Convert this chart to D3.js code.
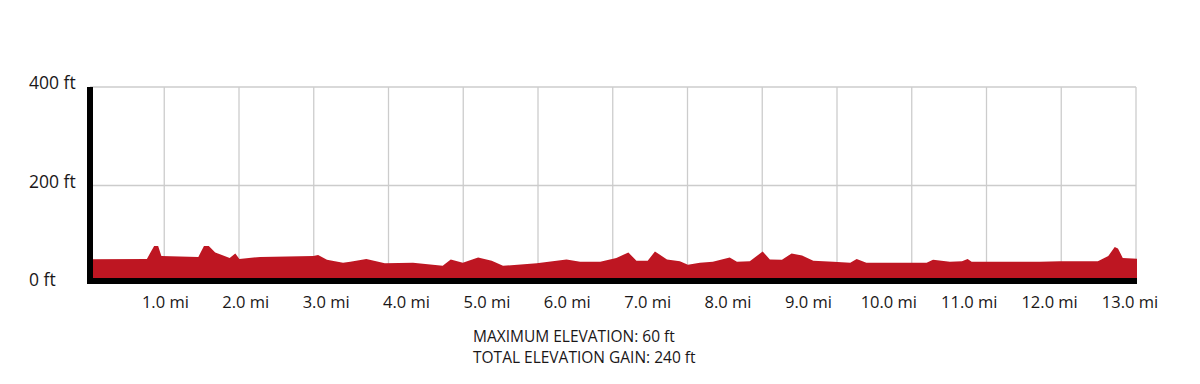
<!DOCTYPE html>
<html>
<head>
<meta charset="utf-8">
<script src="https://cdn.jsdelivr.net/npm/d3@7"></script>
<style>
  body { margin: 0; background: #fff; }
  text { font-family: "Open Sans", sans-serif; fill: #1a1718; }
</style>
</head>
<body>
<div id="graphic_area"></div>
<script>
var width = 1200;
var height = 384;

// elevation profile, miles vs feet
var miles = [0, 0.77, 0.86, 0.91, 0.95, 1.41, 1.48, 1.54, 1.62, 1.80, 1.87, 1.92, 2.18, 2.84, 2.90, 3.01,
  3.21, 3.30, 3.50, 3.73, 4.08, 4.45, 4.55, 4.70, 4.89, 5.06, 5.20, 5.62, 5.99, 6.16, 6.41, 6.61,
  6.76, 6.86, 7.00, 7.09, 7.24, 7.40, 7.50, 7.65, 7.81, 8.02, 8.11, 8.27, 8.43, 8.52, 8.67, 8.79,
  8.92, 9.06, 9.31, 9.52, 9.60, 9.72, 10.47, 10.55, 10.76, 10.91, 10.98, 11.03, 11.88, 12.13, 12.60,
  12.73, 12.81, 12.85, 12.91, 13.1];
var feet = [50, 51, 77, 77, 57, 55, 77, 77, 64, 53, 62, 51, 55, 57, 59, 49,
  43, 45, 51, 42, 43, 37, 50, 43, 54, 47, 37, 42, 50, 45, 45, 53,
  64, 47, 47, 66, 50, 46, 39, 43, 45, 54, 45, 46, 66, 50, 49, 62,
  58, 47, 45, 43, 51, 43, 43, 49, 45, 46, 51, 45, 45, 46, 46,
  57, 75, 72, 53, 51];

var mileTicks = [1, 2, 3, 4, 5, 6, 7, 8, 9, 10, 11, 12, 13];
var feetTicks = [0, 200, 400];
var summary = ["MAXIMUM ELEVATION: 60 ft", "TOTAL ELEVATION GAIN: 240 ft"];

var plotLeft = 90, plotRight = 1136;

var x = d3.scaleLinear().domain([0, 13]).range([85, 1130]);
var y = d3.scaleLinear().domain([0, 400]).range([284, 87]);
// the vertical grid has 14 even columns, not one per mile
var gridX = d3.scaleLinear().domain([0, 14]).range([89.5, plotRight]);

var svg = d3.select("#graphic_area").append("svg")
    .attr("width", width)
    .attr("height", height);

svg.append("clipPath").attr("id", "plotClip")
  .append("rect")
    .attr("x", plotLeft).attr("y", 0)
    .attr("width", plotRight - plotLeft + 1).attr("height", height);

// grid
svg.append("g").selectAll("line")
  .data(d3.range(1, 15))
  .join("line")
    .attr("x1", d => gridX(d)).attr("x2", d => gridX(d))
    .attr("y1", y(400)).attr("y2", y(0))
    .attr("stroke", "#cccccc").attr("stroke-width", 1.3);

svg.append("g").selectAll("line")
  .data(feetTicks.filter(d => d > 0))
  .join("line")
    .attr("x1", plotLeft).attr("x2", plotRight)
    .attr("y1", d => y(d)).attr("y2", d => y(d))
    .attr("stroke", "#cccccc").attr("stroke-width", 1.3);

// profile
var area = d3.area()
    .x(d => x(d[0]))
    .y0(y(0))
    .y1(d => y(d[1]));

svg.append("path")
    .datum(d3.zip(miles, feet))
    .attr("clip-path", "url(#plotClip)")
    .attr("d", area)
    .attr("fill", "#be1622");

// heavy black axes
svg.append("rect")
    .attr("x", 87).attr("y", y(400))
    .attr("width", 6).attr("height", y(0) - y(400));
svg.append("rect")
    .attr("x", 87).attr("y", y(0) - 6)
    .attr("width", plotRight + 1 - 87).attr("height", 6);

// labels
svg.append("g").selectAll("text")
  .data(feetTicks)
  .join("text")
    .attr("x", 29)
    .attr("y", d => y(d) - 4)
    .attr("dy", "0.35em")
    .style("font-size", "17.5px")
    .text(d => d + " ft");

svg.append("g").selectAll("text")
  .data(mileTicks)
  .join("text")
    .attr("x", d => x(d))
    .attr("y", 302)
    .attr("dy", "0.35em")
    .attr("text-anchor", "middle")
    .style("font-size", "16.5px")
    .text(d => d3.format(".1f")(d) + " mi");

svg.append("g").selectAll("text")
  .data(summary)
  .join("text")
    .attr("x", 473)
    .attr("y", (d, i) => 337 + i * 21)
    .attr("dy", "0.35em")
    .style("font-size", "15.5px")
    .text(d => d);
</script>
</body>
</html>
